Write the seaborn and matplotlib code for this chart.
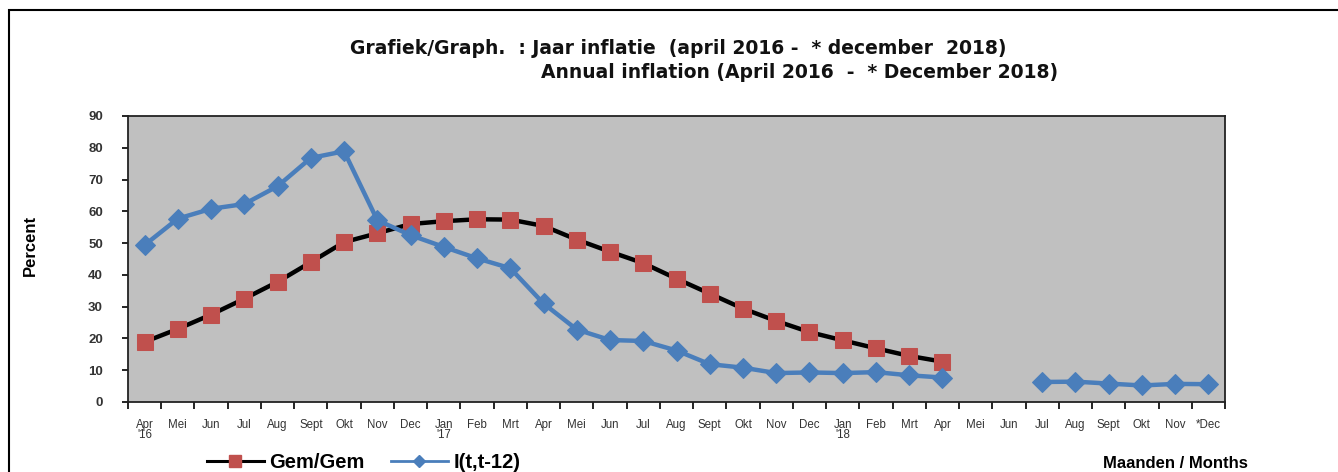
import numpy as np
import pandas as pd
import seaborn as sns
import matplotlib.pyplot as plt
from matplotlib.lines import Line2D
from matplotlib.patches import Rectangle

# months Apr'16 .. Dec'18
months = ["Apr\n'16", "Mei", "Jun", "Jul", "Aug", "Sept", "Okt", "Nov", "Dec",
          "Jan\n'17", "Feb", "Mrt", "Apr", "Mei", "Jun", "Jul", "Aug", "Sept", "Okt", "Nov", "Dec",
          "Jan\n'18", "Feb", "Mrt", "Apr", "Mei", "Jun", "Jul", "Aug", "Sept", "Okt", "Nov", "*Dec"]

# Gem/Gem (Apr'16 - Apr'18)
gem_gem = [18.9, 23.0, 27.5, 32.5, 37.8, 44.0, 50.3, 53.1, 56.0,
           56.9, 57.5, 57.4, 55.4, 51.1, 47.3, 43.7, 38.8, 34.1, 29.4, 25.5, 22.0,
           19.4, 16.9, 14.5, 12.7]

# I(t,t-12), no values for Mei/Jun '18
i_t12 = [49.4, 57.7, 60.8, 62.3, 67.9, 76.8, 78.9, 57.2, 52.5,
         48.8, 45.2, 42.1, 31.0, 22.8, 19.5, 19.2, 16.2, 11.9, 10.8, 9.1, 9.3,
         9.1, 9.4, 8.4, 7.7, np.nan, np.nan, 6.3, 6.4, 5.8, 5.2, 5.7, 5.6]

plt.rcParams["font.family"] = ["Liberation Sans", "DejaVu Sans"]

x = np.arange(len(months))
gem_df = pd.DataFrame({"x": x[:len(gem_gem)], "val": gem_gem})
i_df = pd.DataFrame({"x": x, "val": i_t12})
i_df["seg"] = np.where(i_df["x"] < 25, 0, 1)
i_df = i_df.dropna()

red = "#C0504D"
blue = "#4A7EBB"

fig = plt.figure(figsize=(13.38, 4.72), dpi=100)
ax = fig.add_axes([128 / 1338, 70 / 472, (1225 - 128) / 1338, (402 - 116) / 472])
ax.set_facecolor("#C0C0C0")

sns.lineplot(data=gem_df, x="x", y="val", ax=ax, color="black", linewidth=3.2,
             marker="s", markersize=12, markerfacecolor=red, markeredgecolor=red, zorder=3)
sns.lineplot(data=i_df, x="x", y="val", units="seg", estimator=None, ax=ax, color=blue,
             linewidth=3.2, marker="D", markersize=10, markerfacecolor=blue,
             markeredgecolor=blue, zorder=4)

ax.set_xlim(-0.5, len(months) - 0.5)
ax.set_ylim(0, 90)
ax.set_yticks(range(0, 91, 10))
ax.set_xticks(np.arange(-0.5, len(months), 1.0))
ax.set_xticklabels([])
ax.set_xticks(x, minor=True)
ax.set_xticklabels(months, minor=True, fontsize=8.3, color="#333333", linespacing=0.85,
                   va="top")
ax.tick_params(axis="x", which="major", direction="out", length=5, width=1.2, color="black")
ax.tick_params(axis="x", which="minor", length=0, pad=12)
ax.tick_params(axis="y", direction="out", length=4, width=1.2, pad=14, labelsize=9.5,
               labelcolor="#333333")
for lbl in ax.get_yticklabels():
    lbl.set_fontweight("bold")
ax.set_xlabel("")
ax.set_ylabel("")
for sp in ax.spines.values():
    sp.set_color("#222222")
    sp.set_linewidth(1.3)
ax.grid(False)

# frame around the chart
fig.patches.append(Rectangle((9 / 1338, -0.1), 1.2, 1.1 - 10 / 472, transform=fig.transFigure,
                             fill=False, edgecolor="black", linewidth=1.5))

title_font = ["DejaVu Sans"]
fig.text(350 / 1338, 1 - 48 / 472,
         "Grafiek/Graph.  : Jaar inflatie  (april 2016 -  * december  2018)",
         fontsize=13.5, fontweight="bold", va="center", ha="left", color="#111111",
         family=title_font)
fig.text(1058 / 1338, 1 - 73 / 472,
         "Annual inflation (April 2016  -  * December 2018)",
         fontsize=13.5, fontweight="bold", va="center", ha="right", color="#111111",
         family=title_font)
fig.text(30 / 1338, 1 - 245 / 472, "Percent", rotation=90, fontsize=12,
         fontweight="bold", va="center", ha="center")
fig.text(1175 / 1338, 1 - 463 / 472, "Maanden / Months", fontsize=12,
         fontweight="bold", va="center", ha="center")

handles = [Line2D([], [], color="black", linewidth=2.2, marker="s", markersize=9,
                  markerfacecolor=red, markeredgecolor=red),
           Line2D([], [], color=blue, linewidth=2.0, marker="D", markersize=6,
                  markerfacecolor=blue, markeredgecolor=blue)]
fig.legend(handles, ["Gem/Gem", "I(t,t-12)"], loc="center left",
           bbox_to_anchor=(189 / 1338, 1 - 463 / 472), ncol=2, frameon=False,
           handlelength=2.8, columnspacing=1.3, handletextpad=0.3,
           prop={"weight": "bold", "size": 14.5})

fig.savefig("out.png", dpi=100)
